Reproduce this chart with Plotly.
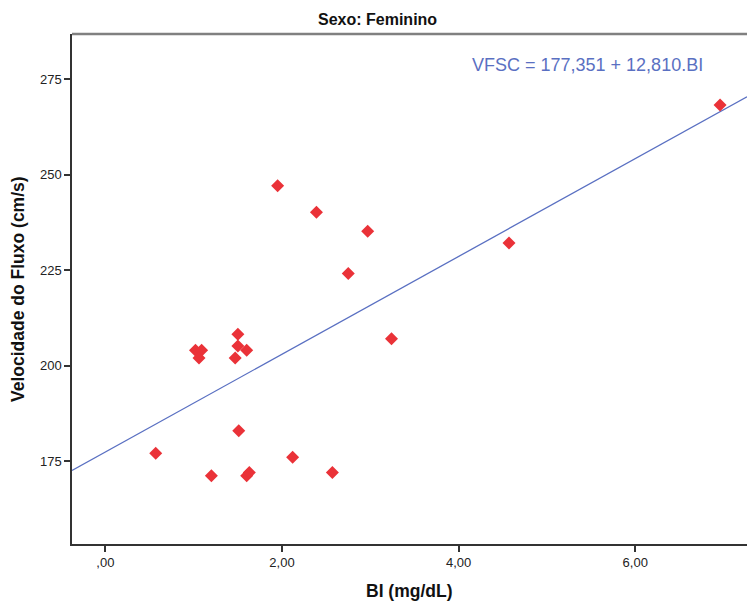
import plotly.graph_objects as go

# Bilirubin (mg/dL) vs. flow velocity (cm/s), female patients
bi_values = [6.96, 4.57, 1.95, 2.39, 2.97, 2.75, 3.24, 1.50, 1.50, 1.60, 1.47,
             1.02, 1.09, 1.06, 1.51, 0.57, 2.12, 1.20, 1.60, 1.63, 2.57]
vfsc_values = [268.3, 232.1, 247.1, 240.2, 235.2, 224.1, 207.0, 208.2, 205.1, 204.0, 202.0,
               204.0, 204.0, 202.0, 182.9, 177.0, 176.0, 171.1, 171.1, 172.0, 172.0]

# Fitted regression: VFSC = intercept + slope * BI
intercept = 177.351
slope = 12.810

x_range = [-0.378, 7.265]
y_range = [153.25, 286.87]

x_ticks = [0, 2, 4, 6]
x_tick_text = [",00", "2,00", "4,00", "6,00"]
y_ticks = [175, 200, 225, 250, 275]


def pt_decimal(v):
    """Format with three decimals and a comma as decimal separator."""
    return f"{v:.3f}".replace(".", ",")


fit_x = x_range
fit_y = [intercept + slope * v for v in fit_x]

fig = go.Figure()
fig.add_trace(go.Scatter(
    x=fit_x, y=fit_y, mode="lines",
    line=dict(color="#5a70c2", width=1.3),
    hoverinfo="skip", showlegend=False,
))
fig.add_trace(go.Scatter(
    x=bi_values, y=vfsc_values, mode="markers",
    marker=dict(symbol="diamond", size=10, color="#ea3238", line=dict(width=0)),
    showlegend=False,
))

axis_font = dict(family="Liberation Sans, Arial, sans-serif", size=13, color="#222222")

fig.update_xaxes(
    range=x_range, tickvals=x_ticks, ticktext=x_tick_text,
    showgrid=False, zeroline=False,
    showline=True, linecolor="#333333", linewidth=1.5,
    ticks="outside", ticklen=6, tickwidth=1.5, tickcolor="#333333",
    tickfont=axis_font,
)
fig.update_yaxes(
    range=y_range, tickvals=y_ticks,
    showgrid=False, zeroline=False,
    showline=True, linecolor="#333333", linewidth=1.5,
    ticks="outside", ticklen=6, tickwidth=1.5, tickcolor="#333333",
    tickfont=axis_font,
)

# Top frame edge
fig.add_shape(type="line", xref="paper", yref="paper", x0=0, x1=1, y0=1, y1=1,
              line=dict(color="#808080", width=2.5))

bold = dict(family="Liberation Sans, Arial, sans-serif", color="#111111")
fig.add_annotation(text="<b>Sexo: Feminino</b>", xref="paper", yref="paper",
                   x=0.4533, y=1.0275, xanchor="center", yanchor="middle",
                   showarrow=False, font=dict(size=16, **bold))
fig.add_annotation(text="<b>BI (mg/dL)</b>", xref="paper", yref="paper",
                   x=0.5, y=-0.092, xanchor="center", yanchor="middle",
                   showarrow=False, font=dict(size=17.5, **bold))
fig.add_annotation(text="<b>Velocidade do Fluxo (cm/s)</b>", xref="paper", yref="paper",
                   x=-0.08, y=0.5, xanchor="center", yanchor="middle", textangle=-90,
                   showarrow=False, font=dict(size=17.5, **bold))
fig.add_annotation(text=f"VFSC = {pt_decimal(intercept)} + {pt_decimal(slope)}.BI",
                   xref="paper", yref="paper",
                   x=0.9378, y=0.939, xanchor="right", yanchor="middle",
                   showarrow=False,
                   font=dict(family="Liberation Sans, Arial, sans-serif", size=18, color="#5a70c2"))

fig.update_layout(
    width=747, height=601, autosize=False,
    margin=dict(l=72, r=0, t=34, b=57),
    paper_bgcolor="white", plot_bgcolor="white",
)

fig.write_html("out.html")
